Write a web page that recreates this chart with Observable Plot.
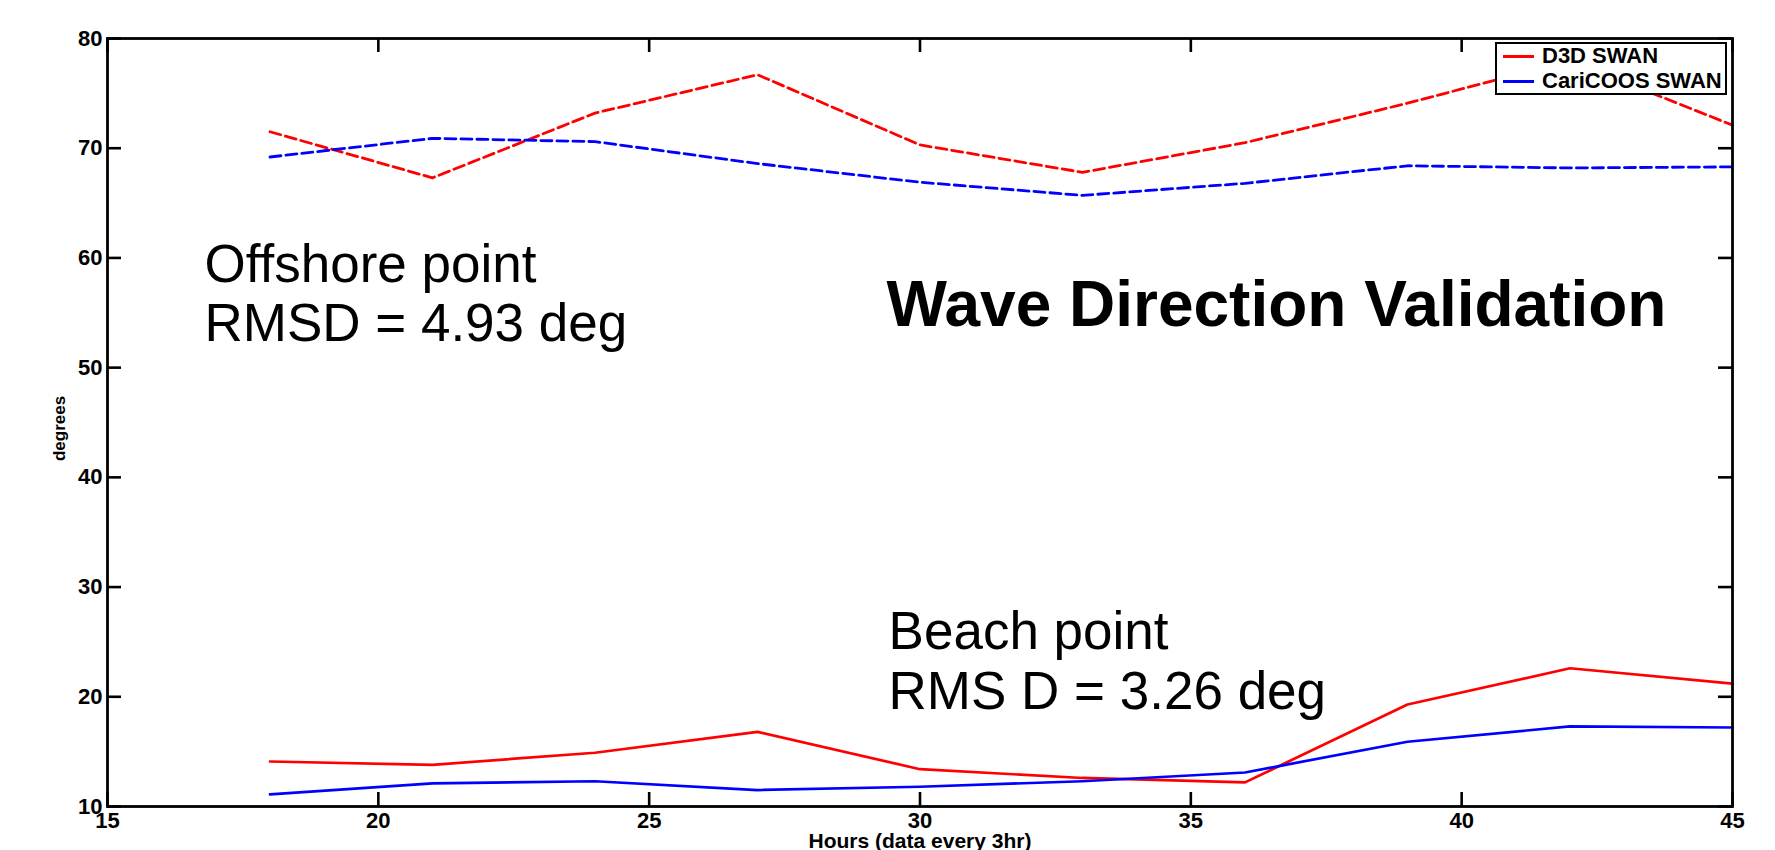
<!DOCTYPE html>
<html>
<head>
<meta charset="utf-8">
<script src="https://cdn.jsdelivr.net/npm/d3@7"></script>
<script src="https://cdn.jsdelivr.net/npm/@observablehq/plot@0.6"></script>
<style>
  html, body { margin: 0; padding: 0; background: white; }
  #wrap { position: relative; width: 1775px; height: 850px; }
  #legend {
    position: absolute; left: 1495px; top: 42px; width: 228px; height: 49px;
    border: 2.5px solid black; background: white;
    font-family: 'Liberation Sans', Arial, sans-serif; font-weight: bold; font-size: 22px;
  }
  #legend .row { position: absolute; left: 0; height: 24px; display: flex; align-items: center; white-space: nowrap; }
  #legend .swatch { width: 31px; height: 3px; margin-left: 6px; margin-right: 8px; }
</style>
</head>
<body>
<div id="wrap"></div>
<script>
// ---- data ----
const hours = [18, 21, 24, 27, 30, 33, 36, 39, 42, 45];
const offshoreD3D  = [71.5, 67.3, 73.2, 76.7, 70.3, 67.8, 70.5, 74.1, 78.0, 72.1];
const offshoreCari = [69.2, 70.9, 70.6, 68.6, 66.9, 65.7, 66.8, 68.4, 68.2, 68.3];
const beachD3D     = [14.1, 13.8, 14.9, 16.8, 13.4, 12.6, 12.2, 19.3, 22.6, 21.2];
const beachCari    = [11.1, 12.1, 12.3, 11.5, 11.8, 12.3, 13.1, 15.9, 17.3, 17.2];
const xTicks = [15, 20, 25, 30, 35, 40, 45];
const yTicks = [10, 20, 30, 40, 50, 60, 70, 80];
const seriesNames = ["D3D SWAN", "CariCOOS SWAN"];
const seriesColors = ["#ff0000", "#0000ff"];
const xLabel = "Hours (data every 3hr)";
const yLabel = "degrees";
const titleText = "Wave Direction Validation";
const offshoreLines = ["Offshore point", "RMSD = 4.93 deg"];
const beachLines = ["Beach point", "RMS D = 3.26 deg"];

const rows = vals => hours.map((h, i) => ({hour: h, value: vals[i]}));

const W = 1775, H = 850;
const mL = 107, mR = 43, mT = 38, mB = 44;
const plotW = W - mL - mR, plotH = H - mT - mB;
const tickLen = 14;
const font = "'Liberation Sans', Arial, Helvetica, sans-serif";

const dashed = {x: "hour", y: "value", strokeWidth: 2.8, strokeDasharray: "11,5"};
const solid = {x: "hour", y: "value", strokeWidth: 2.7};

const chart = Plot.plot({
  width: W, height: H,
  marginLeft: mL, marginRight: mR, marginTop: mT, marginBottom: mB,
  x: {domain: [15, 45], ticks: xTicks},
  y: {domain: [10, 80], ticks: yTicks},
  style: {fontFamily: font, fontSize: "22px", fontWeight: "bold", background: "white", color: "black", overflow: "visible"},
  marks: [
    Plot.line(rows(offshoreD3D), {...dashed, stroke: seriesColors[0]}),
    Plot.line(rows(offshoreCari), {...dashed, stroke: seriesColors[1]}),
    Plot.line(rows(beachD3D), {...solid, stroke: seriesColors[0]}),
    Plot.line(rows(beachCari), {...solid, stroke: seriesColors[1]}),
    // inward ticks on all four sides
    Plot.ruleX(xTicks, {insetTop: plotH - tickLen, stroke: "black", strokeWidth: 2.6}),
    Plot.ruleX(xTicks, {insetBottom: plotH - tickLen, stroke: "black", strokeWidth: 2.6}),
    Plot.ruleY(yTicks, {insetRight: plotW - tickLen, stroke: "black", strokeWidth: 2.6}),
    Plot.ruleY(yTicks, {insetLeft: plotW - tickLen, stroke: "black", strokeWidth: 2.6}),
    Plot.frame({stroke: "black", strokeWidth: 2.8}),
    Plot.axisX({ticks: xTicks, tickSize: 0, tickPadding: 6, fontSize: 22, fontWeight: "bold", label: null}),
    Plot.axisY({ticks: yTicks, tickSize: 0, tickPadding: 5, fontSize: 22, fontWeight: "bold", label: null}),
    Plot.text([xLabel], {text: d => d, frameAnchor: "bottom", textAnchor: "middle", dy: 41, lineAnchor: "bottom", fontSize: 21, fontWeight: "bold"}),
    Plot.text([yLabel], {text: d => d, frameAnchor: "left", textAnchor: "middle", lineAnchor: "middle", dx: -48, dy: 6, rotate: -90, fontSize: 17, fontWeight: "bold"}),
    // annotations
    Plot.text([titleText], {text: d => d, x: 29.38, y: 53.84, textAnchor: "start", lineAnchor: "bottom", fontSize: 64, fontWeight: "bold"}),
    Plot.text([offshoreLines[0]], {text: d => d, x: 16.79, y: 57.8, textAnchor: "start", lineAnchor: "bottom", fontSize: 53, fontWeight: "normal"}),
    Plot.text([offshoreLines[1]], {text: d => d, x: 16.79, y: 52.4, textAnchor: "start", lineAnchor: "bottom", fontSize: 53, fontWeight: "normal"}),
    Plot.text([beachLines[0]], {text: d => d, x: 29.42, y: 24.4, textAnchor: "start", lineAnchor: "bottom", fontSize: 53, fontWeight: "normal"}),
    Plot.text([beachLines[1]], {text: d => d, x: 29.42, y: 18.93, textAnchor: "start", lineAnchor: "bottom", fontSize: 53, fontWeight: "normal"})
  ]
});

const wrap = document.getElementById("wrap");
wrap.appendChild(chart);

// legend overlay
const legend = document.createElement("div");
legend.id = "legend";
seriesNames.forEach((name, i) => {
  const row = document.createElement("div");
  row.className = "row";
  row.style.top = (i * 25) + "px";
  const sw = document.createElement("div");
  sw.className = "swatch";
  sw.style.background = seriesColors[i];
  const label = document.createElement("span");
  label.textContent = name;
  row.appendChild(sw);
  row.appendChild(label);
  legend.appendChild(row);
});
wrap.appendChild(legend);
</script>
</body>
</html>
